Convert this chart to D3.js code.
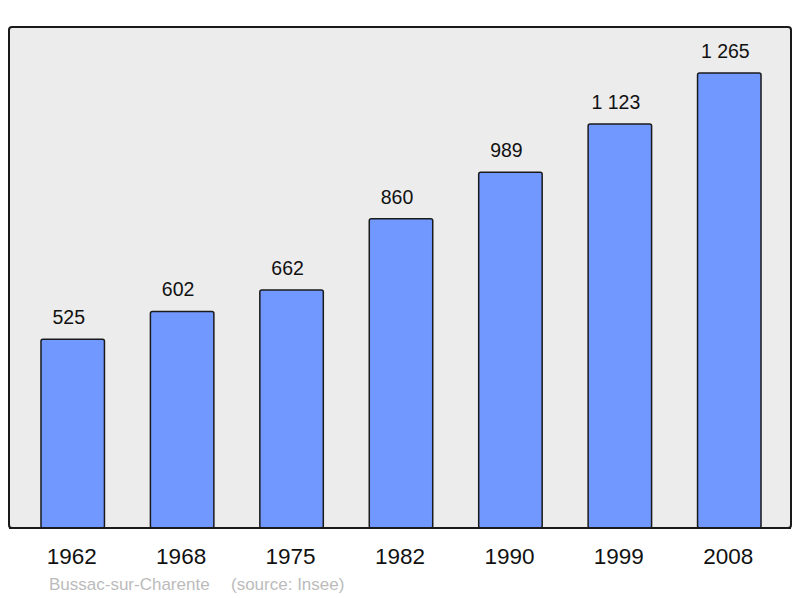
<!DOCTYPE html>
<html>
<head>
<meta charset="utf-8">
<script src="https://cdn.jsdelivr.net/npm/d3@7"></script>
<style>
  html, body { margin: 0; padding: 0; background: #fff; }
  text { font-family: "Liberation Sans", Arial, sans-serif; }
</style>
</head>
<body>
<div id="chart"></div>
<script>
const years = ["1962", "1968", "1975", "1982", "1990", "1999", "2008"];
const population = [525, 602, 662, 860, 989, 1123, 1265];
const valueLabels = ["525", "602", "662", "860", "989", "1 123", "1 265"];
const caption = "Bussac-sur-Charente";
const sourceNote = "(source: Insee)";

const W = 800, H = 598;
const panel = { left: 9, top: 27, right: 791, bottom: 528 };

const svg = d3.select('#chart').append('svg')
  .attr('width', W)
  .attr('height', H);

svg.append('rect')
  .attr('x', panel.left)
  .attr('y', panel.top)
  .attr('width', panel.right - panel.left)
  .attr('height', panel.bottom - panel.top)
  .attr('rx', 3)
  .attr('fill', '#ececec')
  .attr('stroke', '#1a1a1a')
  .attr('stroke-width', 2);

const x = d3.scaleBand().domain(years).range([18, 784]);
const y = d3.scaleLinear().domain([0, 1265]).range([panel.bottom, 73]);
const barW = x.bandwidth() * 0.58;

const data = years.map((yr, i) => ({ year: yr, value: population[i], label: valueLabels[i] }));

svg.selectAll('.bar')
  .data(data)
  .enter()
  .append('rect')
    .attr('class', 'bar')
    .attr('x', d => x(d.year) + (x.bandwidth() - barW) / 2)
    .attr('y', d => y(d.value))
    .attr('width', barW)
    .attr('height', d => y(0) - y(d.value))
    .attr('rx', 2)
    .attr('fill', '#7098ff')
    .attr('stroke', '#1a1a1a')
    .attr('stroke-width', 1.5);

// redraw the baseline over the bar bottoms
svg.append('line')
  .attr('x1', panel.left).attr('x2', panel.right)
  .attr('y1', panel.bottom).attr('y2', panel.bottom)
  .attr('stroke', '#1a1a1a')
  .attr('stroke-width', 2);

svg.selectAll('.val')
  .data(data)
  .enter()
  .append('text')
    .attr('class', 'val')
    .attr('x', d => x(d.year) + x.bandwidth() / 2 - 4)
    .attr('y', d => y(d.value) - 15)
    .attr('text-anchor', 'middle')
    .attr('font-size', 19.5)
    .attr('fill', '#111')
    .text(d => d.label);

svg.selectAll('.yr')
  .data(years)
  .enter()
  .append('text')
    .attr('class', 'yr')
    .attr('x', d => x(d) + x.bandwidth() / 2 - 1)
    .attr('y', 564)
    .attr('text-anchor', 'middle')
    .attr('font-size', 22.5)
    .attr('fill', '#111')
    .text(d => d);

svg.append('text')
  .attr('x', 49).attr('y', 590)
  .attr('font-size', 17)
  .attr('fill', '#bbbbbb')
  .text(caption);

svg.append('text')
  .attr('x', 231).attr('y', 590)
  .attr('font-size', 17)
  .attr('fill', '#bbbbbb')
  .text(sourceNote);
</script>
</body>
</html>
